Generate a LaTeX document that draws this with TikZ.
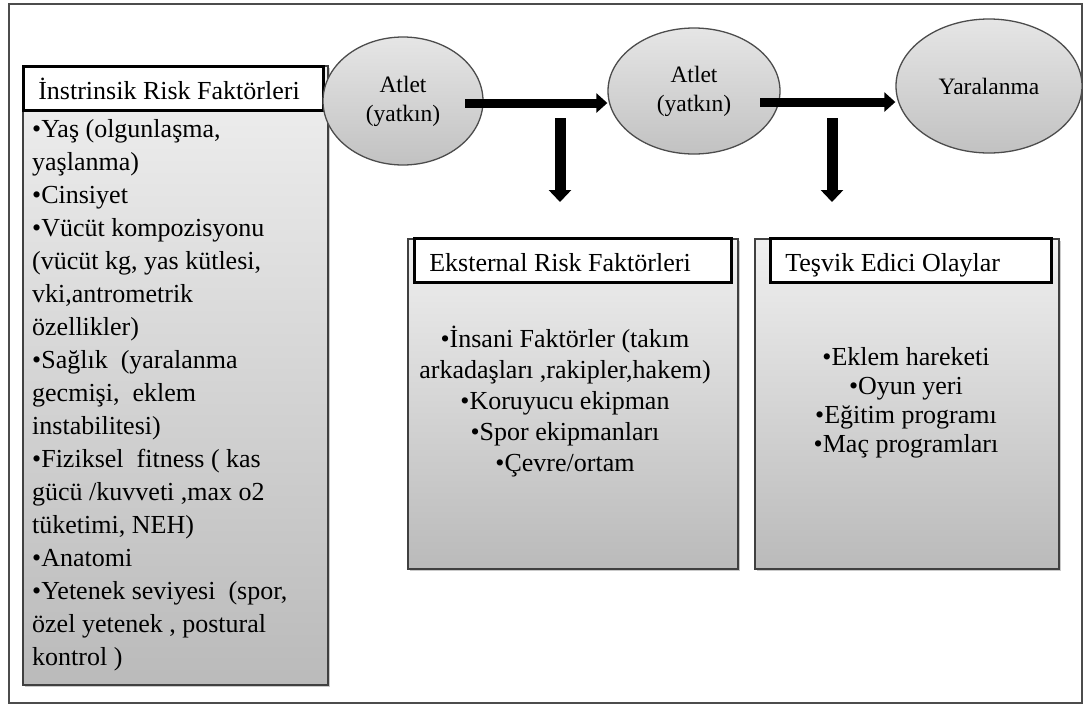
\documentclass[tikz,border=0pt]{standalone}
\usepackage{fontspec}
\setmainfont{Liberation Serif}
\usetikzlibrary{shapes.geometric,arrows.meta,shadows}
\begin{document}
\begin{tikzpicture}[x=1pt,y=-1pt,
  frame/.style={draw=black!70, line width=1.5pt},
  graybox/.style={draw=black!75, line width=1.6pt, top color=black!6, bottom color=black!27,
    drop shadow={shadow xshift=2pt, shadow yshift=-2pt, opacity=0.35, fill=black!60},
    anchor=north west, inner sep=0pt},
  titlebox/.style={draw=black, line width=2.6pt, fill=white, anchor=north west,
    inner xsep=15pt, inner ysep=10.5pt, text height=23pt, text depth=0pt, align=flush left,
    font=\fontsize{26}{30}\selectfont,
    drop shadow={shadow xshift=1.5pt, shadow yshift=-1.5pt, opacity=0.3, fill=black!60}},
  oval/.style={ellipse, draw=black!70, line width=1.3pt, top color=black!10, bottom color=black!24,
    inner sep=0pt, font=\fontsize{23.5}{29}\selectfont, align=center},
  harrow/.style={line width=9pt, -{Triangle[width=19pt,length=11pt]}},
  varrow/.style={line width=11pt, -{Triangle[width=22pt,length=12pt]}},
  leftbody/.style={font=\fontsize{26}{33}\selectfont, inner sep=0pt, align=left, anchor=north west},
  midbody/.style={font=\fontsize{26}{31}\selectfont, inner sep=0pt, align=center, anchor=north},
  rightbody/.style={font=\fontsize{26}{29}\selectfont, inner sep=0pt, align=center, anchor=north}
]
\useasboundingbox (0,0) rectangle (1085,705);
\draw[frame] (9,4) rectangle (1082,703);

% gray boxes
\node[graybox, minimum width=305pt, minimum height=619pt] (lbox) at (22,65) {};
\node[graybox, minimum width=330pt, minimum height=330pt] (mbox) at (407,238) {};
\node[graybox, minimum width=304pt, minimum height=330pt] (rbox) at (754,238) {};

% title boxes
\node[titlebox, text width=270pt] (ltitle) at (22,65) {İnstrinsik Risk Faktörleri};
\node[titlebox, text width=287pt] (mtitle) at (413,237) {Eksternal Risk Faktörleri};
\node[titlebox, text width=251pt] (rtitle) at (769,237) {Teşvik Edici Olaylar};

% body texts
\node[leftbody] (ltext) at (32,119) {•Yaş (olgunlaşma,\\ yaşlanma)\\ •Cinsiyet\\ •Vücüt kompozisyonu\\ (vücüt kg, yas kütlesi,\\ vki,antrometrik\\ özellikler)\\ •Sağlık~ (yaralanma\\ gecmişi,~ eklem\\ instabilitesi)\\ •Fiziksel~ fitness ( kas\\ gücü /kuvveti ,max o2\\ tüketimi, NEH)\\ •Anatomi\\ •Yetenek seviyesi~ (spor,\\ özel yetenek , postural\\ kontrol )};
\node[midbody] (mtext) at (565,326) {•İnsani Faktörler (takım\\ arkadaşları ,rakipler,hakem)\\ •Koruyucu ekipman\\ •Spor ekipmanları\\ •Çevre/ortam};
\node[rightbody] (rtext) at (906,347) {•Eklem hareketi\\ •Oyun yeri\\ •Eğitim programı\\ •Maç programları};

% ellipses
\node[oval, minimum width=160pt, minimum height=128pt] (e1) at (403,101) {Atlet\\(yatkın)};
\node[oval, minimum width=172pt, minimum height=126pt] (e2) at (694,91) {Atlet\\(yatkın)};
\node[oval, minimum width=186pt, minimum height=134pt] (e3) at (989,86) {Yaralanma};

% arrows
\coordinate (a1s) at (465,103);
\coordinate (a2s) at (760,102);
\draw[harrow] (a1s) -- (a1s -| e2.west);
\draw[harrow] (a2s) -- (a2s -| e3.west);
\coordinate (d1s) at (560,118);
\coordinate (d1e) at (560,202);
\coordinate (d2s) at (832,118);
\coordinate (d2e) at (832,202);
\draw[varrow] (d1s) -- (d1e);
\draw[varrow] (d2s) -- (d2e);
\end{tikzpicture}
\end{document}
